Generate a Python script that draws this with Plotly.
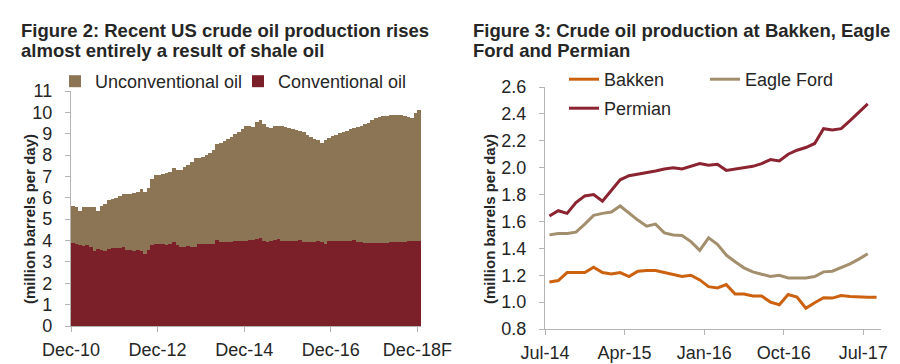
import plotly.graph_objects as go

# ---------------- Figure 2 data (monthly, Dec-10 .. Dec-18F) ----------------
fig2_months = list(range(97))  # month index from Dec-10
fig2_ticks = ["Dec-10", "Dec-12", "Dec-14", "Dec-16", "Dec-18F"]
fig2_tickvals = [0, 24, 48, 72, 96]

total_oil = [5.60, 5.55, 5.40, 5.58, 5.55, 5.55, 5.58, 5.40, 5.62, 5.72,
             5.88, 5.95, 6.00, 6.10, 6.18, 6.20, 6.20, 6.24, 6.27, 6.40,
             6.25, 6.45, 6.90, 7.05, 7.08, 7.10, 7.15, 7.20, 7.38, 7.28,
             7.30, 7.45, 7.55, 7.68, 7.85, 7.88, 7.93, 8.00, 8.08, 8.22,
             8.50, 8.58, 8.65, 8.75, 8.85, 9.00, 9.10, 9.20, 9.35, 9.38,
             9.32, 9.55, 9.62, 9.45, 9.30, 9.28, 9.35, 9.38, 9.34, 9.30,
             9.25, 9.20, 9.17, 9.12, 9.08, 8.95, 8.85, 8.75, 8.72, 8.55,
             8.70, 8.80, 8.88, 8.94, 9.05, 9.10, 9.13, 9.20, 9.25, 9.30,
             9.38, 9.45, 9.52, 9.65, 9.75, 9.80, 9.83, 9.85, 9.88, 9.90,
             9.90, 9.88, 9.85, 9.80, 9.72, 9.98, 10.12]

conventional_oil = [3.88, 3.85, 3.78, 3.76, 3.78, 3.70, 3.52, 3.62, 3.55, 3.49,
                    3.60, 3.63, 3.64, 3.66, 3.68, 3.58, 3.55, 3.52, 3.56, 3.49,
                    3.35, 3.56, 3.80, 3.82, 3.83, 3.82, 3.80, 3.82, 3.91, 3.78,
                    3.72, 3.68, 3.76, 3.70, 3.72, 3.83, 3.83, 3.84, 3.85, 3.86,
                    4.02, 3.95, 3.93, 3.93, 3.95, 3.96, 3.96, 3.98, 4.00, 4.01,
                    4.02, 4.05, 4.11, 3.99, 3.94, 3.96, 4.02, 4.08, 3.99, 3.98,
                    3.97, 3.96, 3.98, 4.04, 3.94, 3.93, 3.91, 3.93, 4.00, 3.94,
                    3.83, 3.96, 3.96, 3.97, 3.98, 3.99, 4.00, 3.96, 4.02, 3.95,
                    3.91, 3.90, 3.88, 3.88, 3.89, 3.89, 3.90, 3.90, 3.91, 3.92,
                    3.93, 3.94, 3.95, 3.96, 3.96, 3.96, 3.97]

# ---------------- Figure 3 data (monthly, Jul-14 .. Aug-17) ----------------
fig3_ticks = ["Jul-14", "Apr-15", "Jan-16", "Oct-16", "Jul-17"]
fig3_tickvals = [0, 9, 18, 27, 36]

bakken = [1.15, 1.16, 1.22, 1.22, 1.22, 1.26, 1.22, 1.21, 1.22, 1.19,
          1.23, 1.235, 1.235, 1.22, 1.205, 1.19, 1.20, 1.165, 1.115, 1.105,
          1.13, 1.06, 1.06, 1.045, 1.045, 1.00, 0.98, 1.057, 1.037, 0.955,
          0.995, 1.032, 1.03, 1.049, 1.042, 1.037, 1.037, 1.037]

eagle_ford = [1.50, 1.51, 1.51, 1.52, 1.58, 1.645, 1.66, 1.67, 1.715, 1.66,
              1.61, 1.565, 1.58, 1.515, 1.50, 1.495, 1.45, 1.385, 1.478, 1.43,
              1.35, 1.30, 1.255, 1.225, 1.21, 1.19, 1.20, 1.18, 1.18, 1.18,
              1.19, 1.225, 1.23, 1.255, 1.285, 1.32, 1.36]

permian = [1.64, 1.68, 1.66, 1.74, 1.79, 1.80, 1.75, 1.83, 1.91, 1.94,
           1.95, 1.96, 1.975, 1.99, 2.00, 1.99, 2.01, 2.03, 2.018, 2.025,
           1.98, 1.99, 1.995, 2.01, 2.03, 2.06, 2.05, 2.10, 2.13, 2.15,
           2.18, 2.29, 2.28, 2.29, 2.35, 2.41, 2.475]

FONT = "Liberation Sans, Arial, sans-serif"
TXT = "#262626"
AX = "#b3b3b3"
C_UNCONV = "#8b7555"
C_CONV = "#7b2028"
C_BAKKEN = "#cc6110"
C_EAGLE = "#a38f6e"
C_PERMIAN = "#8b2331"

fig = go.Figure()

# Figure 2: overlaid columns (total behind, conventional in front)
fig.add_trace(go.Bar(
    x=[m + 0.5 for m in fig2_months], y=total_oil, width=1.0,
    name="Unconventional oil", marker=dict(color=C_UNCONV, line=dict(width=0)),
    xaxis="x", yaxis="y", legend="legend"))
fig.add_trace(go.Bar(
    x=[m + 0.5 for m in fig2_months], y=conventional_oil, width=1.0,
    name="Conventional oil", marker=dict(color=C_CONV, line=dict(width=0)),
    xaxis="x", yaxis="y", legend="legend"))

# Figure 3: lines
def line_trace(vals, name, color, leg):
    return go.Scatter(x=[i + 0.5 for i in range(len(vals))], y=vals, mode="lines",
                      name=name, line=dict(color=color, width=3),
                      xaxis="x2", yaxis="y2", legend=leg)

fig.add_trace(line_trace(bakken, "Bakken", C_BAKKEN, "legend2"))
fig.add_trace(line_trace(eagle_ford, "Eagle Ford", C_EAGLE, "legend2"))
fig.add_trace(line_trace(permian, "Permian", C_PERMIAN, "legend3"))

W, H = 900, 364
def px_x(p):
    return p / W
def px_y(p):
    return 1 - p / H

TICKSIZE = 18
axis_x = dict(showgrid=False, zeroline=False, showline=True, linecolor=AX, linewidth=1.3,
              ticks="outside", ticklen=5, tickcolor=AX, tickwidth=1.3, tickangle=0,
              ticklabelstandoff=2,
              tickfont=dict(family=FONT, size=TICKSIZE, color=TXT))
axis_y = dict(axis_x, ticklabelstandoff=9)

legfont = dict(family=FONT, size=18, color=TXT)
fig.update_layout(
    width=W, height=H, margin=dict(l=0, r=0, t=0, b=0, autoexpand=False),
    paper_bgcolor="white", plot_bgcolor="white",
    barmode="overlay", bargap=0,
    font=dict(family=FONT, color=TXT),
    xaxis=dict(domain=[px_x(63), px_x(413)], range=[0, 97], tickmode="array",
               tickvals=fig2_tickvals, ticktext=fig2_ticks, anchor="y", **axis_x),
    yaxis=dict(domain=[px_y(318), px_y(83)], range=[0, 11], dtick=1, anchor="x", **axis_y),
    xaxis2=dict(domain=[px_x(537), px_x(873)], range=[0, 38], tickmode="array",
                tickvals=fig3_tickvals, ticktext=fig3_ticks, anchor="y2", **axis_x),
    yaxis2=dict(domain=[px_y(321), px_y(79)], range=[0.8, 2.6], dtick=0.2, tickformat=".1f",
                anchor="x2", **axis_y),
    legend=dict(orientation="h", x=px_x(47), y=px_y(55), xanchor="left", yanchor="top",
                font=legfont, bgcolor="rgba(0,0,0,0)", entrywidth=138, entrywidthmode="pixels",
                traceorder="normal"),
    legend2=dict(orientation="h", x=px_x(556), y=px_y(53), xanchor="left", yanchor="top",
                 font=legfont, bgcolor="rgba(0,0,0,0)", entrywidth=96, entrywidthmode="pixels",
                 traceorder="normal"),
    legend3=dict(orientation="h", x=px_x(556), y=px_y(82), xanchor="left", yanchor="top",
                 font=legfont, bgcolor="rgba(0,0,0,0)"),
    showlegend=True,
)

TITLE_SIZE = 18.5
def title_line(text, x, y):
    return dict(text="<b>" + text + "</b>", x=px_x(x), y=px_y(y), xref="paper", yref="paper",
                xanchor="left", yanchor="middle", align="left", showarrow=False,
                font=dict(family=FONT, size=TITLE_SIZE, color=TXT))

annotations = [
    title_line("Figure 2: Recent US crude oil production rises", 11, 22),
    title_line("almost entirely a result of shale oil", 11, 42),
    title_line("Figure 3: Crude oil production at Bakken, Eagle", 463, 22),
    title_line("Ford and Permian", 463, 42),
    dict(text="<b>(million barrels per day)</b>", textangle=-90,
         x=px_x(21), y=px_y(211), xref="paper", yref="paper", xanchor="center", yanchor="middle",
         showarrow=False, font=dict(family=FONT, size=15, color=TXT)),
    dict(text="<b>(million barrels per day)</b>", textangle=-90,
         x=px_x(481), y=px_y(211), xref="paper", yref="paper", xanchor="center", yanchor="middle",
         showarrow=False, font=dict(family=FONT, size=15, color=TXT)),
]
fig.update_layout(annotations=annotations)

fig.write_html("out.html")
